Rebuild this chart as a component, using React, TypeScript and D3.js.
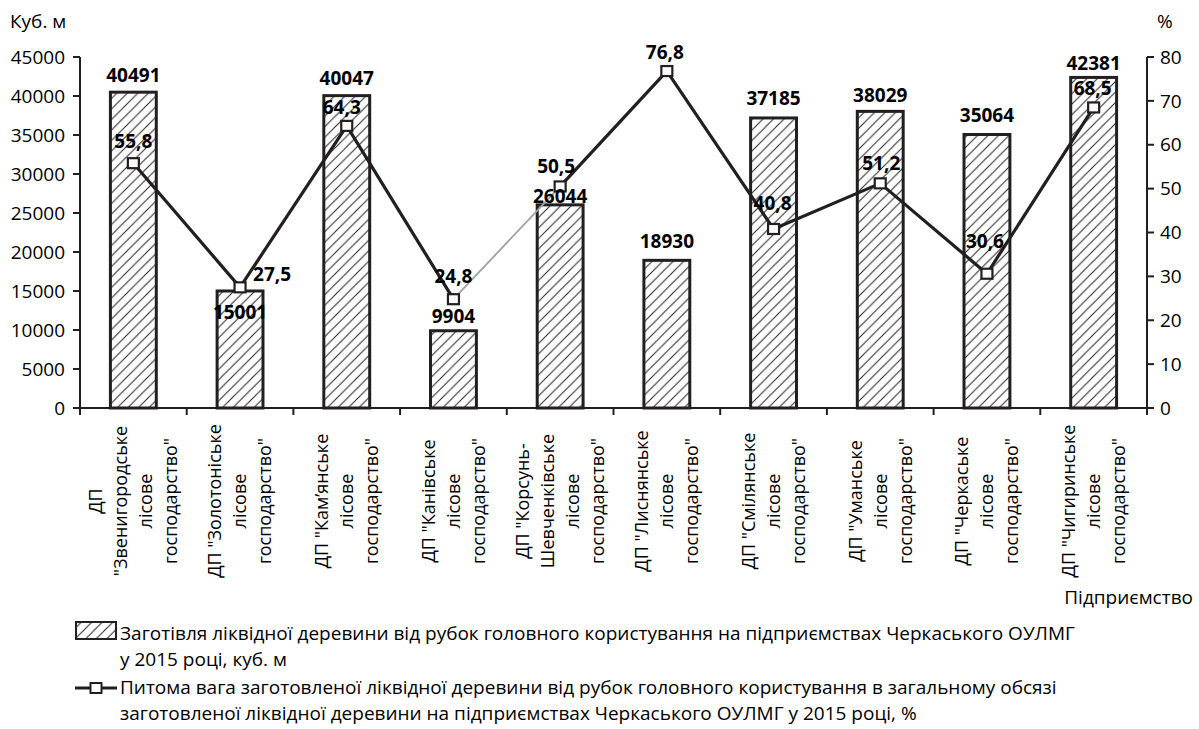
import React from 'react';
import * as d3 from 'd3';

const categories: string[][] = [
  ['ДП', '"Звенигородське', 'лісове', 'господарство"'],
  ['ДП "Золотоніське', 'лісове', 'господарство"'],
  ['ДП "Кам’янське', 'лісове', 'господарство"'],
  ['ДП "Канівське', 'лісове', 'господарство"'],
  ['ДП "Корсунь-', 'Шевченківське', 'лісове', 'господарство"'],
  ['ДП "Лиснянське', 'лісове', 'господарство"'],
  ['ДП "Смілянське', 'лісове', 'господарство"'],
  ['ДП "Уманське', 'лісове', 'господарство"'],
  ['ДП "Черкаське', 'лісове', 'господарство"'],
  ['ДП "Чигиринське', 'лісове', 'господарство"'],
];

const volumes: number[] = [40491, 15001, 40047, 9904, 26044, 18930, 37185, 38029, 35064, 42381];
const shares: number[] = [55.8, 27.5, 64.3, 24.8, 50.5, 76.8, 40.8, 51.2, 30.6, 68.5];

const leftTicks: number[] = [0, 5000, 10000, 15000, 20000, 25000, 30000, 35000, 40000, 45000];
const rightTicks: number[] = [0, 10, 20, 30, 40, 50, 60, 70, 80];

const legendBars = ['Заготівля ліквідної деревини від рубок головного користування на підприємствах Черкаського ОУЛМГ', 'у 2015 році, куб. м'];
const legendLine = ['Питома вага заготовленої ліквідної деревини від рубок головного користування в загальному обсязі', 'заготовленої ліквідної деревини на підприємствах Черкаського ОУЛМГ у 2015 році, %'];

// label placement (style)
const barLabelDy = [-10, 28, -10.5, -8, -1.5, -12, -13, -9, -12.5, -7.5];
const lineLabelDy = [-15, -6, -12, -16, -13, -12, -19, -13, -26, -12];
const lineLabelDx = [0, 13, -5, 0, -4, -2, -1, 1, -2, -1];

const INK = '#231f20';
const FONT = '"Open Sans", "Noto Sans", sans-serif';

export default function App() {
  const W = 1199, H = 729;
  const x0 = 80, x1 = 1147, yBase = 408, yTop = 57;
  const x = d3.scaleBand<number>().domain(d3.range(categories.length)).range([x0, x1]).padding(0);
  const yL = d3.scaleLinear().domain([0, 45000]).range([yBase, yTop]);
  const yR = d3.scaleLinear().domain([0, 80]).range([yBase, yTop]);
  const bw = x.bandwidth() * 0.43;
  const cx = (i: number) => (x(i) as number) + x.bandwidth() / 2;
  const fmt = (v: number) => String(v).replace('.', ',');
  const lineGen = d3.line<[number, number]>().x((d) => cx(d[0])).y((d) => yR(d[1]));

  const segs = shares.slice(1).map((_, i) => ({ a: i, b: i + 1 }));

  return (
    <svg width={W} height={H} style={{ position: 'absolute', left: 0, top: 0, background: '#fff' }} fontFamily={FONT}>
      <defs>
        <pattern id="hatch" patternUnits="userSpaceOnUse" width={10.5} height={10.5}>
          <path d="M0,10.5 L10.5,0 M-2,2 L2,-2 M8.5,12.5 L12.5,8.5" stroke={INK} strokeWidth={1} />
        </pattern>
      </defs>
      <rect width={W} height={H} fill="#fff" />

      {/* axis titles */}
      <text x={10} y={28} fontSize={19} fill="#000">Куб. м</text>
      <text x={1157} y={28} fontSize={19} fill="#000">%</text>
      <text x={1193} y={604} fontSize={19} fill="#000" textAnchor="end">Підприємство</text>

      {/* bars */}
      {volumes.map((v, i) => (
        <rect key={'b' + i} x={cx(i) - bw / 2} y={yL(v)} width={bw} height={yBase - yL(v)} fill="url(#hatch)" stroke={INK} strokeWidth={3} />
      ))}

      {/* left axis */}
      <line x1={x0} x2={x0} y1={yTop} y2={yBase} stroke={INK} strokeWidth={2} />
      {leftTicks.map((t) => (
        <g key={'lt' + t}>
          <line x1={x0 - 7} x2={x0} y1={yL(t)} y2={yL(t)} stroke={INK} strokeWidth={2} />
          <text x={x0 - 15} y={yL(t)} dy="0.35em" textAnchor="end" fontSize={19} fill="#000">{t}</text>
        </g>
      ))}

      {/* right axis */}
      <line x1={x1} x2={x1} y1={yTop} y2={yBase} stroke={INK} strokeWidth={2} />
      {rightTicks.map((t) => (
        <g key={'rt' + t}>
          <line x1={x1} x2={x1 + 7} y1={yR(t)} y2={yR(t)} stroke={INK} strokeWidth={2} />
          <text x={x1 + 13} y={yR(t)} dy="0.35em" textAnchor="start" fontSize={19} fill="#000">{t}</text>
        </g>
      ))}

      {/* x axis */}
      <line x1={x0} x2={x1} y1={yBase} y2={yBase} stroke={INK} strokeWidth={2} />
      {d3.range(categories.length + 1).map((i) => {
        const xx = x0 + i * x.bandwidth();
        return <line key={'xt' + i} x1={xx} x2={xx} y1={yBase} y2={yBase + 7} stroke={INK} strokeWidth={2} />;
      })}

      {/* category labels */}
      {categories.map((lines, i) => (
        <g key={'c' + i} transform={`translate(${cx(i)},501) rotate(-90)`}>
          {lines.map((ln, j) => (
            <text key={j} x={0} y={(j - (lines.length - 1) / 2) * 25} dy="0.35em" textAnchor="middle" fontSize={18} fill="#000">{ln}</text>
          ))}
        </g>
      ))}

      {/* line */}
      {segs.map((s) => (
        <path key={'s' + s.a}
          d={lineGen([[s.a, shares[s.a]], [s.b, shares[s.b]]]) || ''}
          stroke={s.a === 3 ? '#a0a0a0' : INK} strokeWidth={s.a === 3 ? 1.8 : 3.2} fill="none" />
      ))}
      {shares.map((v, i) => (
        <rect key={'m' + i} x={cx(i) - 5.5} y={yR(v) - 5} width={11} height={10} fill="#fff" stroke={INK} strokeWidth={2.2} />
      ))}

      {/* bar labels */}
      {volumes.map((v, i) => (
        <text key={'bl' + i} x={cx(i)} y={yL(v) + barLabelDy[i]} textAnchor="middle" fontSize={19} fontWeight="bold" fill="#000">{v}</text>
      ))}
      {/* line labels */}
      {shares.map((v, i) => (
        <text key={'ll' + i} x={cx(i) + lineLabelDx[i]} y={yR(v) + lineLabelDy[i]} textAnchor={i === 1 ? 'start' : 'middle'} fontSize={19} fontWeight="bold" fill="#000">{fmt(v)}</text>
      ))}

      {/* legend */}
      <rect x={76} y={622} width={40} height={17} fill="url(#hatch)" stroke={INK} strokeWidth={2} />
      <text x={120} y={640} fontSize={19} fill="#000">{legendBars[0]}</text>
      <text x={120} y={666} fontSize={19} fill="#000">{legendBars[1]}</text>
      <line x1={75} x2={117} y1={688} y2={688} stroke={INK} strokeWidth={3} />
      <rect x={90.5} y={683} width={11} height={10} fill="#fff" stroke={INK} strokeWidth={2} />
      <text x={120} y={694} fontSize={19} fill="#000">{legendLine[0]}</text>
      <text x={120} y={720} fontSize={19} fill="#000">{legendLine[1]}</text>
    </svg>
  );
}
